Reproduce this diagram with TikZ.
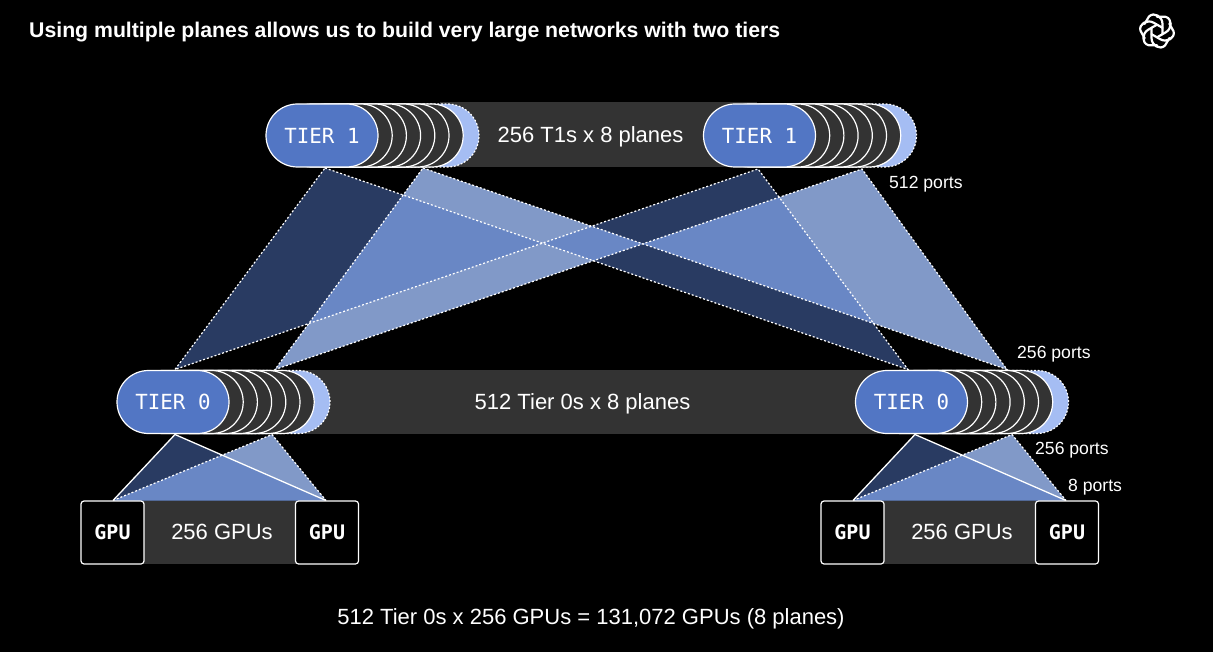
\documentclass[tikz,border=0pt]{standalone}
\usepackage{fontspec}
\setmainfont{Liberation Sans}
\newfontfamily\tiermono{DejaVu Sans Mono}
\usetikzlibrary{shapes.misc}
\definecolor{tierblue}{HTML}{5276C4}
\definecolor{tierlight}{HTML}{A5BDF3}
\definecolor{stackgray}{HTML}{333333}
\definecolor{linklight}{HTML}{8199C8}

\begin{document}
\begin{tikzpicture}[
		  x=1pt, y=-1pt,
		  bar/.style={fill=stackgray, draw=none},
		  pill/.style={rounded rectangle, draw=white, line width=1.2pt, minimum width=112pt, minimum height=63pt, inner sep=0pt},
		  front/.style={pill, fill=tierblue, text=white, font=\tiermono\fontsize{20.8}{24}\selectfont},
		  back/.style={pill, fill=stackgray},
		  last/.style={pill, fill=tierlight, dash pattern=on 1.8pt off 1.8pt},
		  gpu/.style={draw=white, fill=black, rounded corners=3pt, line width=1.2pt, minimum width=63pt, minimum height=63pt, inner sep=0pt, text=white, font=\tiermono\bfseries\fontsize{20}{24}\selectfont},
		  lbl/.style={text=white, inner sep=0pt, font=\fontsize{22}{26}\selectfont},
		  ports/.style={text=white, inner sep=0pt, anchor=west, font=\fontsize{17.6}{20}\selectfont},
		  lightfill/.style={fill=linklight, draw=none},
		  darkfill/.style={fill=tierblue, fill opacity=0.5, draw=none},
		  dotted link/.style={draw=white, line width=1.2pt, dash pattern=on 2pt off 2pt},
		  solid link/.style={draw=white, line width=1.3pt},
		  logo/.style={draw=white, line width=2.2pt, line join=round, line cap=round}
		]
		\useasboundingbox (0,0) rectangle (1213,652);
		\fill[black] (0,0) rectangle (1213,652);
		
		\node[text=white, inner sep=0pt, anchor=west, font=\bfseries\fontsize{21.25}{25}\selectfont] (title) at (29,32) {Using multiple planes allows us to build very large networks with two tiers};
		
		% grey bars behind the stacks
		\fill[bar] (440,102) rectangle (757,167);
		\fill[bar] (290,369.5) rectangle (880,434);
		\fill[bar] (144,501) rectangle (296,564);
		\fill[bar] (884,501) rectangle (1036,564);
		
		\coordinate (t1a_dark) at (325,168);
		\coordinate (t1a_light) at (423,168);
		\coordinate (t1b_dark) at (758,169);
		\coordinate (t1b_light) at (862,169);
		\coordinate (t0a_dark) at (175,369.5);
		\coordinate (t0a_light) at (275,369.5);
		\coordinate (t0b_dark) at (908,369.5);
		\coordinate (t0b_light) at (1007,369.5);
		
		% tier 1 to tier 0
		\fill[lightfill] (t1a_light) -- (t0b_light) -- (t1b_light) -- (t0a_light) -- cycle;
		\fill[darkfill] (t1a_dark) -- (t0b_dark) -- (t1b_dark) -- (t0a_dark) -- cycle;
		\draw[dotted link] (t1a_light) -- (t0b_light) -- (t1b_light) -- (t0a_light) -- cycle;
		\draw[dotted link] (t1a_dark) -- (t0b_dark) -- (t1b_dark) -- (t0a_dark) -- cycle;
		
		% tier 0 to gpus
		\foreach \nm/\dx in {a/0,b/740} {
			\coordinate (up_dark_\nm) at (175+\dx,434.5);
			\coordinate (up_light_\nm) at (272+\dx,434.5);
			\coordinate (gpu_l_\nm) at (113+\dx,500.5);
			\coordinate (gpu_r_\nm) at (326+\dx,500.5);
			\fill[lightfill] (up_light_\nm) -- (gpu_l_\nm) -- (gpu_r_\nm) -- cycle;
			\fill[darkfill] (up_dark_\nm) -- (gpu_l_\nm) -- (gpu_r_\nm) -- cycle;
			\draw[dotted link] (gpu_l_\nm) -- (up_light_\nm) -- (gpu_r_\nm);
			\draw[solid link] (gpu_l_\nm) -- (up_dark_\nm) -- (gpu_r_\nm);
			\node[gpu] (gpu1_\nm) at (112.5+\dx,532.5) {GPU};
			\node[gpu] (gpu2_\nm) at (327+\dx,532.5) {GPU};
		}
		
		% stacks of planes, back to front
		\foreach \nm/\cx/\cy/\txt in {t1a/322/135.5/TIER 1, t1b/759.5/135.5/TIER 1, t0a/173/402/TIER 0, t0b/911.5/402/TIER 0} {
			\node[last] (\nm_p7) at (\cx+101,\cy) {};
			\foreach \i in {6,5,...,1}
				\node[back] (\nm_p\i) at (\cx+14.2*\i,\cy) {};
			\node[front] (\nm) at (\cx,\cy) {\txt};
		}
		
		\node[lbl] (t1_lbl) at (590.5,136.5) {256 T1s x 8 planes};
		\node[lbl] (t0_lbl) at (582.5,403.5) {512 Tier 0s x 8 planes};
		\node[lbl] (gpu_lbl_a) at (222,532) {256 GPUs};
		\node[lbl] (gpu_lbl_b) at (962,532) {256 GPUs};
		\node[lbl] (total) at (591,619) {512 Tier 0s x 256 GPUs = 131,072 GPUs (8 planes)};
		
		\node[ports] (p512) at (889,184) {512 ports};
		\node[ports] (p256a) at (1017,354) {256 ports};
		\node[ports] (p256b) at (1035,450) {256 ports};
		\node[ports] (p8) at (1068,487) {8 ports};
		
		% logo
		\foreach \a in {0,60,...,300} {
			\begin{scope}[shift={(1157,31)}, rotate=\a]
				\draw[logo] (5.5,3.2) -- (5.5,-7) .. controls (5.5,-14.5) and (-3,-19.5) .. (-8,-14.5) -- (-12.5,-7);
			\end{scope}
		}
		\end{tikzpicture}
\end{document}
